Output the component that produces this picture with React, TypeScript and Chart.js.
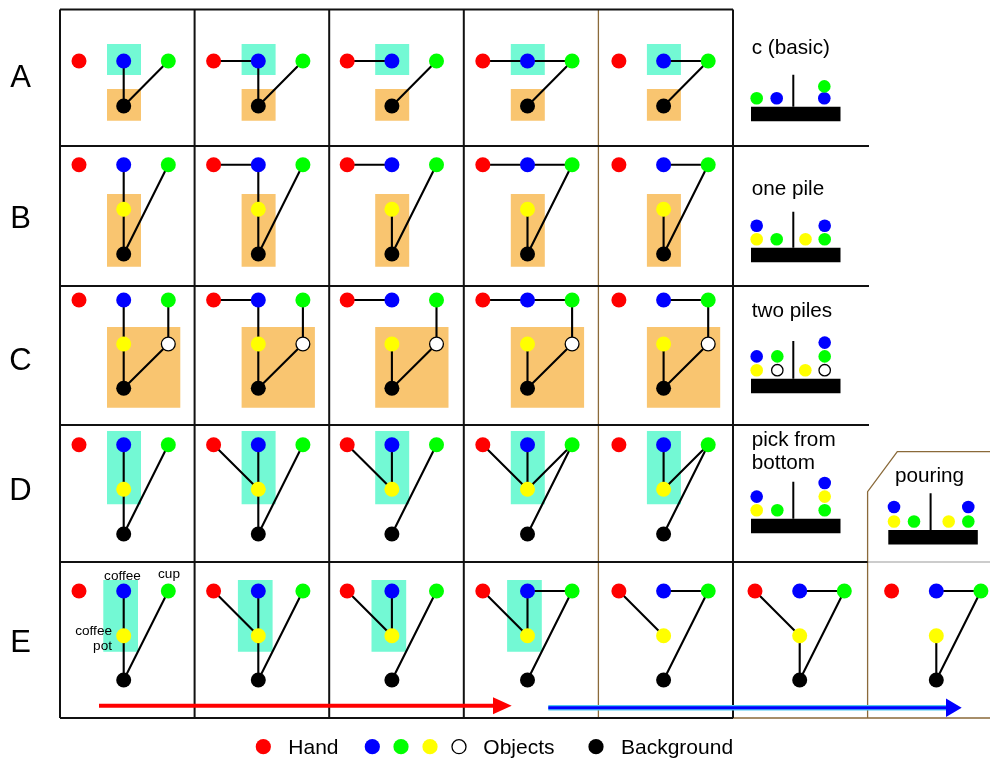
import { useEffect, useRef } from 'react';
import { Chart, registerables } from 'chart.js';

Chart.register(...registerables);

// ---------------- DATA ----------------
const rowLabels = ['A', 'B', 'C', 'D', 'E'];
// nodes: R = hand, B = coffee, G = cup, Y = coffee pot, W = extra object, K = background
const rowNodes = ['RBGK', 'RBGYK', 'RBGYWK', 'RBGYK', 'RBGYK'];
const edgesA = ['BK GK', 'RB BK GK', 'RB GK', 'RB BG GK', 'BG GK'];
const edgesB = ['BY YK GK', 'RB BY YK GK', 'RB YK GK', 'RB BG YK GK', 'BG YK GK'];
const edgesC = ['BY YK GW WK', 'RB BY YK GW WK', 'RB YK GW WK', 'RB BG YK GW WK', 'BG YK GW WK'];
const edgesD = ['BY YK GK', 'RY BY YK GK', 'RY BY GK', 'RY BY GY GK', 'BY GY GK'];
const edgesE = ['BY YK GK', 'RY BY YK GK', 'RY BY GK', 'RY BY BG GK', 'RY BG GK', 'RY BG YK GK', 'BG YK GK'];
const rowEdges = [edgesA, edgesB, edgesC, edgesD, edgesE];
const rowBoxes = [['cyan', 'orange'], ['orange'], ['orange'], ['cyan'], ['cyan']];
const boxedCells = [5, 5, 5, 5, 4];
const nodeNames = ['coffee', 'cup', 'coffee\npot'];
const pileTitles = ['c (basic)', 'one pile', 'two piles', 'pick from\nbottom', 'pouring'];
const pileStacks = [
  [['G'], ['B'], [], ['B', 'G']],
  [['Y', 'B'], ['G'], ['Y'], ['G', 'B']],
  [['Y', 'B'], ['W', 'G'], ['Y'], ['W', 'G', 'B']],
  [['Y', 'B'], ['G'], [], ['G', 'Y', 'B']],
  [['Y', 'B'], ['G'], ['Y'], ['G', 'B']],
];
const legendLabels = ['Hand', 'Objects', 'Background'];
const legendNodes = ['R', 'BGYW', 'K'];

// ---------------- LAYOUT / STYLE ----------------
const FONT = '"Liberation Sans", Arial, sans-serif';
const NODE_COLOR: Record<string, string> = {
  R: '#ff0000', B: '#0000ff', G: '#00ff00', Y: '#ffff00', W: '#ffffff', K: '#000000',
};
const BOX_COLOR: Record<string, string> = { cyan: '#73f9d4', orange: '#f9c570' };
const GRID_LEFT = 60;
const COL_W = 134.6;
const ROW_LINES = [9.5, 146, 286, 425, 562, 718];
const COL_NUDGE = [0, 0, -1, 0, 1.5, 3, 5];
const NODE_DX: Record<string, number> = { R: 19, B: 63.7, G: 108.3, Y: 63.7, W: 108.3, K: 63.7 };
const ROW_NODE_Y = [
  [61, 83.5, 106],
  [164.7, 209.3, 254],
  [300, 344, 388.3],
  [444.7, 489.3, 534],
  [591, 635.7, 680],
];
const BOX_GEOM = [
  [[47, 81, 44, 75], [47, 81, 89, 120.7]],
  [[47, 81, 194, 266.7]],
  [[47, 120.3, 327, 407.7]],
  [[47, 81, 431, 504.3]],
  [[43.3, 78, 580, 651.7]],
];
const ROW_LABEL_X = 20.5;
const ROW_LABEL_BASE = [87, 227.7, 369.5, 500, 652];
const NODE_LABEL_POS = [
  { x: 122.5, y: 579.5, align: 'center' },
  { x: 169, y: 578, align: 'center' },
  { x: 112, y: 635, align: 'right' },
];
const PILE_LAYOUT = [
  { barX: 751, barY: 106.7, pole: 32, titleX: 751.7, titleY: 53.5, gap: 11.8, cols: [5.7, 25.7, 54.5, 73.3] },
  { barX: 751, barY: 247.7, pole: 36, titleX: 751.7, titleY: 194.5, gap: 13.4, cols: [5.7, 25.7, 54.5, 73.7] },
  { barX: 751, barY: 378.7, pole: 37.7, titleX: 751.7, titleY: 317.3, gap: 13.8, cols: [5.7, 26.3, 54.3, 73.7] },
  { barX: 751, barY: 518.7, pole: 37, titleX: 751.7, titleY: 445.7, gap: 13.6, cols: [5.7, 26.3, 54.3, 73.7] },
  { barX: 888.3, barY: 530, pole: 36.7, titleX: 895, titleY: 481.7, gap: 14.5, cols: [5.7, 25.7, 60.4, 80] },
];
const BAR_W = 89.5;
const BAR_H = 14.5;
const POLE_DX = 42.3;
const LEGEND_DOT_X = [[263.3], [372.3, 401, 430, 459], [596]];
const LEGEND_TEXT_X = [288.3, 483.3, 621];
const LEGEND_DOT_Y = 746.7;
const LEGEND_TEXT_Y = 754.3;
const RED_ARROW = { x0: 99, x1: 493, tip: 511.7, y: 705.7, half: 8.5 };
const BLUE_ARROW = { x0: 548.3, x1: 946, tip: 961.7, y: 707.7, half: 9.2 };

const GAP = { x: null, y: null };

type Pt = { x: number | null; y: number | null };

function cellLeft(col: number) {
  return GRID_LEFT + col * COL_W + COL_NUDGE[col];
}

function nodePos(row: number, col: number, n: string) {
  const [yt, ym, yb] = ROW_NODE_Y[row];
  const y = 'RBG'.includes(n) ? yt : n === 'K' ? yb : ym;
  return { x: cellLeft(col) + NODE_DX[n], y };
}

function rectPts(x0: number, x1: number, y0: number, y1: number): Pt[] {
  return [
    { x: x0, y: y0 }, { x: x1, y: y0 }, { x: x1, y: y1 }, { x: x0, y: y1 }, { x: x0, y: y0 }, GAP,
  ];
}

function buildDatasets() {
  const dotData: Pt[] = [];
  const dotBg: string[] = [];
  const dotBorder: string[] = [];
  const dotBw: number[] = [];
  const dotR: number[] = [];
  const addDot = (x: number, y: number, n: string, r: number) => {
    dotData.push({ x, y });
    dotBg.push(NODE_COLOR[n]);
    dotBorder.push(n === 'W' ? '#000000' : NODE_COLOR[n]);
    dotBw.push(n === 'W' ? 1.3 : 0);
    dotR.push(n === 'W' ? r - 0.6 : r);
  };

  const edges: Pt[] = [];
  const boxes: Record<string, Pt[]> = { cyan: [], orange: [] };

  rowEdges.forEach((cells, row) => {
    cells.forEach((spec, col) => {
      if (col < boxedCells[row]) {
        rowBoxes[row].forEach((kind, bi) => {
          const [dx0, dx1, y0, y1] = BOX_GEOM[row][bi];
          const left = cellLeft(col);
          boxes[kind].push(...rectPts(left + dx0, left + dx1, y0, y1));
        });
      }
      spec.split(' ').forEach((pair) => {
        const a = nodePos(row, col, pair[0]);
        const b = nodePos(row, col, pair[1]);
        edges.push(a, b, GAP);
      });
      rowNodes[row].split('').forEach((n) => {
        const p = nodePos(row, col, n);
        addDot(p.x, p.y, n, 7.5);
      });
    });
  });

  const bars: Pt[] = [];
  const poles: Pt[] = [];
  pileStacks.forEach((stacks, i) => {
    const L = PILE_LAYOUT[i];
    bars.push(...rectPts(L.barX, L.barX + BAR_W, L.barY, L.barY + BAR_H));
    poles.push({ x: L.barX + POLE_DX, y: L.barY }, { x: L.barX + POLE_DX, y: L.barY - L.pole }, GAP);
    stacks.forEach((stack, c) => {
      stack.forEach((n, k) => {
        addDot(L.barX + L.cols[c], L.barY - 8.5 - k * L.gap, n, 6.3);
      });
    });
  });

  legendNodes.forEach((ns, i) => {
    ns.split('').forEach((n, k) => addDot(LEGEND_DOT_X[i][k], LEGEND_DOT_Y, n, 7.6));
  });

  const L = ROW_LINES;
  const cx = (c: number) => GRID_LEFT + c * COL_W;
  const gridBlack: Pt[] = [
    { x: cx(0), y: L[0] }, { x: cx(5), y: L[0] }, GAP,
    { x: cx(0), y: L[1] }, { x: 869, y: L[1] }, GAP,
    { x: cx(0), y: L[2] }, { x: 869, y: L[2] }, GAP,
    { x: cx(0), y: L[3] }, { x: 869, y: L[3] }, GAP,
    { x: cx(0), y: L[4] }, { x: cx(6), y: L[4] }, GAP,
    { x: cx(0), y: L[5] }, { x: cx(5), y: L[5] }, GAP,
  ];
  [0, 1, 2, 3, 5].forEach((c) => gridBlack.push({ x: cx(c), y: L[0] }, { x: cx(c), y: L[5] }, GAP));
  const gridBrown: Pt[] = [
    { x: cx(4), y: L[0] }, { x: cx(4), y: L[5] }, GAP,
    { x: cx(5), y: L[5] }, { x: 990, y: L[5] }, GAP,
    { x: cx(6), y: L[5] }, { x: cx(6), y: 491.7 }, { x: 897.3, y: 451.7 }, { x: 990, y: 451.7 }, GAP,
  ];
  const gridGray: Pt[] = [{ x: cx(6), y: L[4] }, { x: 990, y: L[4] }, GAP];

  const line = (data: Pt[], color: string, width: number, order: number) => ({
    data, showLine: true, borderColor: color, borderWidth: width, pointRadius: 0,
    fill: false, spanGaps: false, order, clip: false, borderCapStyle: 'butt',
  });
  const shape = (data: Pt[], color: string, order: number) => ({
    data, showLine: true, borderWidth: 0, borderColor: color, backgroundColor: color,
    pointRadius: 0, fill: 'shape', spanGaps: false, order, clip: false,
  });

  const R = RED_ARROW;
  const Bl = BLUE_ARROW;

  return [
    {
      data: dotData, showLine: false, pointRadius: dotR, pointBackgroundColor: dotBg,
      pointBorderColor: dotBorder, pointBorderWidth: dotBw, order: 0, clip: false,
    },
    line(edges, '#000000', 2.1, 1),
    line(poles, '#000000', 2, 1),
    shape(bars, '#000000', 1),
    line([{ x: R.x0, y: R.y }, { x: R.x1 + 1, y: R.y }], '#ff0000', 4, 1),
    shape([{ x: R.x1, y: R.y - R.half }, { x: R.tip, y: R.y }, { x: R.x1, y: R.y + R.half }, { x: R.x1, y: R.y - R.half }], '#ff0000', 1),
    line([{ x: Bl.x0, y: Bl.y }, { x: Bl.x1 + 1, y: Bl.y }], '#0000ff', 3, 1),
    shape([{ x: Bl.x1, y: Bl.y - Bl.half }, { x: Bl.tip, y: Bl.y }, { x: Bl.x1, y: Bl.y + Bl.half }, { x: Bl.x1, y: Bl.y - Bl.half }], '#0000ff', 1),
    line([{ x: Bl.x0, y: Bl.y }, { x: Bl.x1, y: Bl.y }], '#4cc8f0', 5.5, 2),
    line(gridBlack, '#111111', 2, 2),
    line(gridBrown, '#8a6a3a', 1.3, 2),
    line(gridGray, '#9a9a9a', 1.2, 2),
    shape(boxes.cyan, BOX_COLOR.cyan, 3),
    shape(boxes.orange, BOX_COLOR.orange, 3),
  ];
}

type TextItem = { text: string; x: number; y: number; size: number; align: CanvasTextAlign; lh?: number };

function buildTexts(): TextItem[] {
  const t: TextItem[] = [];
  rowLabels.forEach((s, i) => t.push({ text: s, x: ROW_LABEL_X, y: ROW_LABEL_BASE[i], size: 31, align: 'center' }));
  pileTitles.forEach((s, i) => {
    const L = PILE_LAYOUT[i];
    t.push({ text: s, x: L.titleX, y: L.titleY, size: 20.7, align: 'left', lh: 23.6 });
  });
  legendLabels.forEach((s, i) => t.push({ text: s, x: LEGEND_TEXT_X[i], y: LEGEND_TEXT_Y, size: 21, align: 'left' }));
  nodeNames.forEach((s, i) => {
    const p = NODE_LABEL_POS[i];
    t.push({ text: s, x: p.x, y: p.y, size: 13.6, align: p.align as CanvasTextAlign, lh: 14.5 });
  });
  return t;
}

const textPlugin = {
  id: 'diagramTexts',
  afterDatasetsDraw(chart: any) {
    const { ctx, scales } = chart;
    const xs = scales.x;
    const ys = scales.y;
    ctx.save();
    ctx.fillStyle = '#000000';
    ctx.textBaseline = 'alphabetic';
    for (const item of buildTexts()) {
      ctx.font = `${item.size}px ${FONT}`;
      ctx.textAlign = item.align;
      item.text.split('\n').forEach((ln, k) => {
        ctx.fillText(ln, xs.getPixelForValue(item.x), ys.getPixelForValue(item.y + k * (item.lh || 0)));
      });
    }
    ctx.restore();
  },
};

export default function App() {
  const ref = useRef<HTMLCanvasElement | null>(null);
  useEffect(() => {
    if (!ref.current) return;
    const chart = new Chart(ref.current, {
      type: 'scatter',
      data: { datasets: buildDatasets() as any },
      options: {
        animation: false,
        responsive: false,
        events: [],
        layout: { padding: 0, autoPadding: false },
        plugins: { legend: { display: false }, tooltip: { enabled: false } },
        scales: {
          x: { type: 'linear', min: 0, max: 990, display: false },
          y: { type: 'linear', min: 0, max: 760, reverse: true, display: false },
        },
      },
      plugins: [textPlugin],
    } as any);
    return () => chart.destroy();
  }, []);
  return (
    <div style={{ position: 'fixed', left: 0, top: 0, width: 990, height: 760, background: '#ffffff' }}>
      <canvas ref={ref} width={990} height={760} style={{ display: 'block', width: 990, height: 760 }} />
    </div>
  );
}
